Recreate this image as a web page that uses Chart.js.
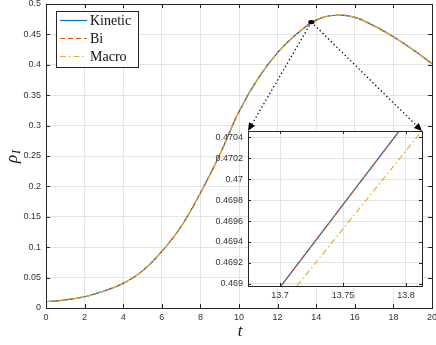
<!DOCTYPE html>
<html>
<head>
<meta charset="utf-8">
<script src="https://cdn.jsdelivr.net/npm/chart.js@4.4.1/dist/chart.umd.min.js"></script>
<style>
  html, body { margin: 0; padding: 0; background: #fff; }
  #wrap { position: relative; width: 436px; height: 345px; }
  #mainChart { position: absolute; left: 0; top: 0; }
  #insetChart { position: absolute; left: 195px; top: 127px; }
</style>
</head>
<body>
<div id="wrap">
  <canvas id="mainChart" width="436" height="345"></canvas>
  <canvas id="insetChart" width="232" height="180"></canvas>
</div>
<script>
// main curve (t = 0..20)
const tValues = [0, 1, 2, 3, 4, 5, 6, 7, 8, 9, 10, 11, 12, 13, 14, 15, 16, 17, 18, 19, 20];
const kinetic = [0.0103, 0.0135, 0.0185, 0.028, 0.0405, 0.061, 0.093, 0.134, 0.189, 0.252, 0.323, 0.378, 0.420, 0.451, 0.4735, 0.4815, 0.478, 0.464, 0.446, 0.425, 0.402];
const bi = [0.0103, 0.0135, 0.0185, 0.028, 0.0405, 0.061, 0.093, 0.134, 0.189, 0.252, 0.323, 0.378, 0.420, 0.451, 0.4735, 0.4815, 0.478, 0.464, 0.446, 0.425, 0.402];
const macro = [0.0103, 0.0135, 0.0185, 0.028, 0.0405, 0.061, 0.093, 0.134, 0.189, 0.252, 0.323, 0.378, 0.420, 0.451, 0.4735, 0.4815, 0.478, 0.464, 0.446, 0.425, 0.402];

// zoomed part (inset)
const zoomT = [13.69, 13.82];
const zoomKinetic = [0.46881, 0.47086];
const zoomBi = [0.46881, 0.47086];
const zoomMacroT = [13.70, 13.82];
const zoomMacro = [0.46878, 0.47057];

const mainTicksY = { min: 0, max: 0.5, step: 0.05 };
const insetTicksY = { min: 0.46898, max: 0.47046, step: 0.0002 };

const BLUE = '#0072BD', RED = '#D95319', YELLOW = '#EDB120';
const AXIS = '#262626', GRID = '#e3e3e3', LABEL = '#333';
const tickFont = { family: "'Liberation Sans', Arial, sans-serif", size: 9 };

function pts(xs, ys) { return xs.map((x, i) => ({ x: x, y: ys[i] })); }

// order: macro on top, then bi, kinetic at the bottom
function seriesSets(xs, k, b, m, xm) {
  return [
    { label: 'Kinetic', data: pts(xs, k), borderColor: BLUE, borderWidth: 1.2, pointRadius: 0, tension: 0.4, order: 3 },
    { label: 'Bi', data: pts(xs, b), borderColor: RED, borderWidth: 1.2, borderDash: [5, 3], pointRadius: 0, tension: 0.4, order: 2 },
    { label: 'Macro', data: pts(xm || xs, m), borderColor: YELLOW, borderWidth: 1.2, borderDash: [6, 3, 1.5, 3], pointRadius: 0, tension: 0.4, order: 1 }
  ];
}

// box + inward ticks like matlab
const boxPlugin = {
  id: 'box',
  beforeDraw(chart, args, opts) {
    if (opts.fill) {
      const a = chart.chartArea;
      chart.ctx.save();
      chart.ctx.fillStyle = '#fff';
      chart.ctx.fillRect(a.left, a.top, a.right - a.left, a.bottom - a.top);
      chart.ctx.restore();
    }
  },
  afterDraw(chart, args, opts) {
    const ctx = chart.ctx, a = chart.chartArea;
    const L = opts.len || 4;
    ctx.save();
    ctx.strokeStyle = AXIS;
    ctx.lineWidth = 1;
    ctx.beginPath();
    chart.scales.x.ticks.forEach(t => {
      const px = Math.round(chart.scales.x.getPixelForValue(t.value)) + 0.5;
      ctx.moveTo(px, a.bottom); ctx.lineTo(px, a.bottom - L);
      ctx.moveTo(px, a.top); ctx.lineTo(px, a.top + L);
    });
    chart.scales.y.ticks.forEach(t => {
      const py = Math.round(chart.scales.y.getPixelForValue(t.value)) + 0.5;
      ctx.moveTo(a.left, py); ctx.lineTo(a.left + L, py);
      ctx.moveTo(a.right, py); ctx.lineTo(a.right - L, py);
    });
    ctx.stroke();
    ctx.strokeRect(Math.round(a.left) + 0.5, Math.round(a.top) + 0.5, Math.round(a.right - a.left), Math.round(a.bottom - a.top));
    ctx.restore();
  }
};

// inset
const insetChart = new Chart(document.getElementById('insetChart'), {
  type: 'line',
  data: { datasets: seriesSets(zoomT, zoomKinetic, zoomBi, zoomMacro, zoomMacroT) },
  options: {
    responsive: false,
    animation: false,
    layout: { padding: { top: 4, right: 5, left: 0, bottom: 0 } },
    plugins: { legend: { display: false }, tooltip: { enabled: false }, box: { fill: true, len: 3 } },
    scales: {
      x: {
        type: 'linear', min: 13.6746, max: 13.8127,
        ticks: { stepSize: 0.05, includeBounds: false, padding: 4, color: LABEL, font: tickFont, maxRotation: 0,
                 callback: v => String(+v.toFixed(2)) },
        grid: { color: GRID, drawTicks: false },
        border: { display: false },
        afterFit(s) { s.height = 21; s.paddingLeft = 0; s.paddingRight = 0; }
      },
      y: {
        min: insetTicksY.min, max: insetTicksY.max,
        ticks: { stepSize: insetTicksY.step, includeBounds: false, padding: 5, color: LABEL, font: tickFont,
                 callback: v => String(+v.toFixed(4)) },
        grid: { color: GRID, drawTicks: false },
        border: { display: false },
        afterFit(s) { s.width = 53; s.paddingTop = 0; s.paddingBottom = 0; }
      }
    }
  },
  plugins: [boxPlugin]
});

const INSET_LEFT = 195, INSET_TOP = 127;

const extrasPlugin = {
  id: 'extras',
  afterDraw(chart) {
    const ctx = chart.ctx;
    const xs = chart.scales.x, ys = chart.scales.y;
    ctx.save();

    // legend
    ctx.fillStyle = '#fff';
    ctx.fillRect(56.5, 11.5, 82, 56);
    ctx.strokeStyle = AXIS;
    ctx.lineWidth = 1;
    ctx.strokeRect(56.5, 11.5, 82, 56);
    ctx.font = "14px 'Liberation Serif', 'Times New Roman', serif";
    ctx.textBaseline = 'middle';
    chart.data.datasets.forEach((ds, i) => {
      const y = 20.5 + i * 18;
      ctx.strokeStyle = ds.borderColor;
      ctx.lineWidth = 1.2;
      ctx.setLineDash(ds.borderDash || []);
      ctx.beginPath(); ctx.moveTo(60, y); ctx.lineTo(87, y); ctx.stroke();
      ctx.setLineDash([]);
      ctx.fillStyle = '#111';
      ctx.fillText(ds.label, 90, y + 1);
    });

    // axis titles
    ctx.fillStyle = '#111';
    ctx.font = "italic 17px 'Liberation Serif', 'Times New Roman', serif";
    ctx.textAlign = 'center';
    ctx.textBaseline = 'alphabetic';
    ctx.fillText('t', 240, 336);
    ctx.translate(17, 155);
    ctx.rotate(-Math.PI / 2);
    ctx.textAlign = 'left';
    ctx.fillText('ρ', -8, 0);
    ctx.font = "italic 12px 'Liberation Serif', 'Times New Roman', serif";
    ctx.fillText('I', 1, 3);
    ctx.setTransform(1, 0, 0, 1, 0, 0);

    // dotted arrows to the inset corners
    const sx = xs.getPixelForValue(13.75), sy = ys.getPixelForValue(0.4702);
    const ia = insetChart.chartArea;
    const corners = [[INSET_LEFT + ia.left, INSET_TOP + ia.top], [INSET_LEFT + ia.right, INSET_TOP + ia.top]];
    ctx.fillStyle = '#000';
    ctx.strokeStyle = '#000';
    corners.forEach(c => {
      const ang = Math.atan2(c[1] - sy, c[0] - sx);
      const hl = 8, hw = 3.5;
      const bx = c[0] - hl * Math.cos(ang), by = c[1] - hl * Math.sin(ang);
      ctx.lineWidth = 1.3;
      ctx.setLineDash([1.3, 2.6]);
      ctx.beginPath(); ctx.moveTo(sx, sy); ctx.lineTo(bx, by); ctx.stroke();
      ctx.setLineDash([]);
      ctx.beginPath();
      ctx.moveTo(c[0], c[1]);
      ctx.lineTo(bx + hw * Math.sin(ang), by - hw * Math.cos(ang));
      ctx.lineTo(bx - hw * Math.sin(ang), by + hw * Math.cos(ang));
      ctx.closePath(); ctx.fill();
    });
    ctx.beginPath();
    ctx.ellipse(sx, sy, 3.2, 2.2, 0, 0, Math.PI * 2);
    ctx.fill();
    ctx.restore();
  }
};

new Chart(document.getElementById('mainChart'), {
  type: 'line',
  data: { datasets: seriesSets(tValues, kinetic, bi, macro) },
  options: {
    responsive: false,
    animation: false,
    layout: { padding: { top: 4, right: 4, left: 0, bottom: 0 } },
    plugins: { legend: { display: false }, tooltip: { enabled: false }, box: { len: 4 } },
    scales: {
      x: {
        type: 'linear', min: 0, max: 20,
        ticks: { stepSize: 2, padding: 4, color: LABEL, font: tickFont, maxRotation: 0 },
        grid: { color: GRID, drawTicks: false },
        border: { display: false },
        afterFit(s) { s.height = 37; s.paddingLeft = 0; s.paddingRight = 0; }
      },
      y: {
        min: mainTicksY.min, max: mainTicksY.max,
        ticks: { stepSize: mainTicksY.step, padding: 5, color: LABEL, font: tickFont,
                 callback: v => String(+v.toFixed(2)) },
        grid: { color: GRID, drawTicks: false },
        border: { display: false },
        afterFit(s) { s.width = 46; s.paddingTop = 0; s.paddingBottom = 0; }
      }
    }
  },
  plugins: [boxPlugin, extrasPlugin]
});
</script>
</body>
</html>
